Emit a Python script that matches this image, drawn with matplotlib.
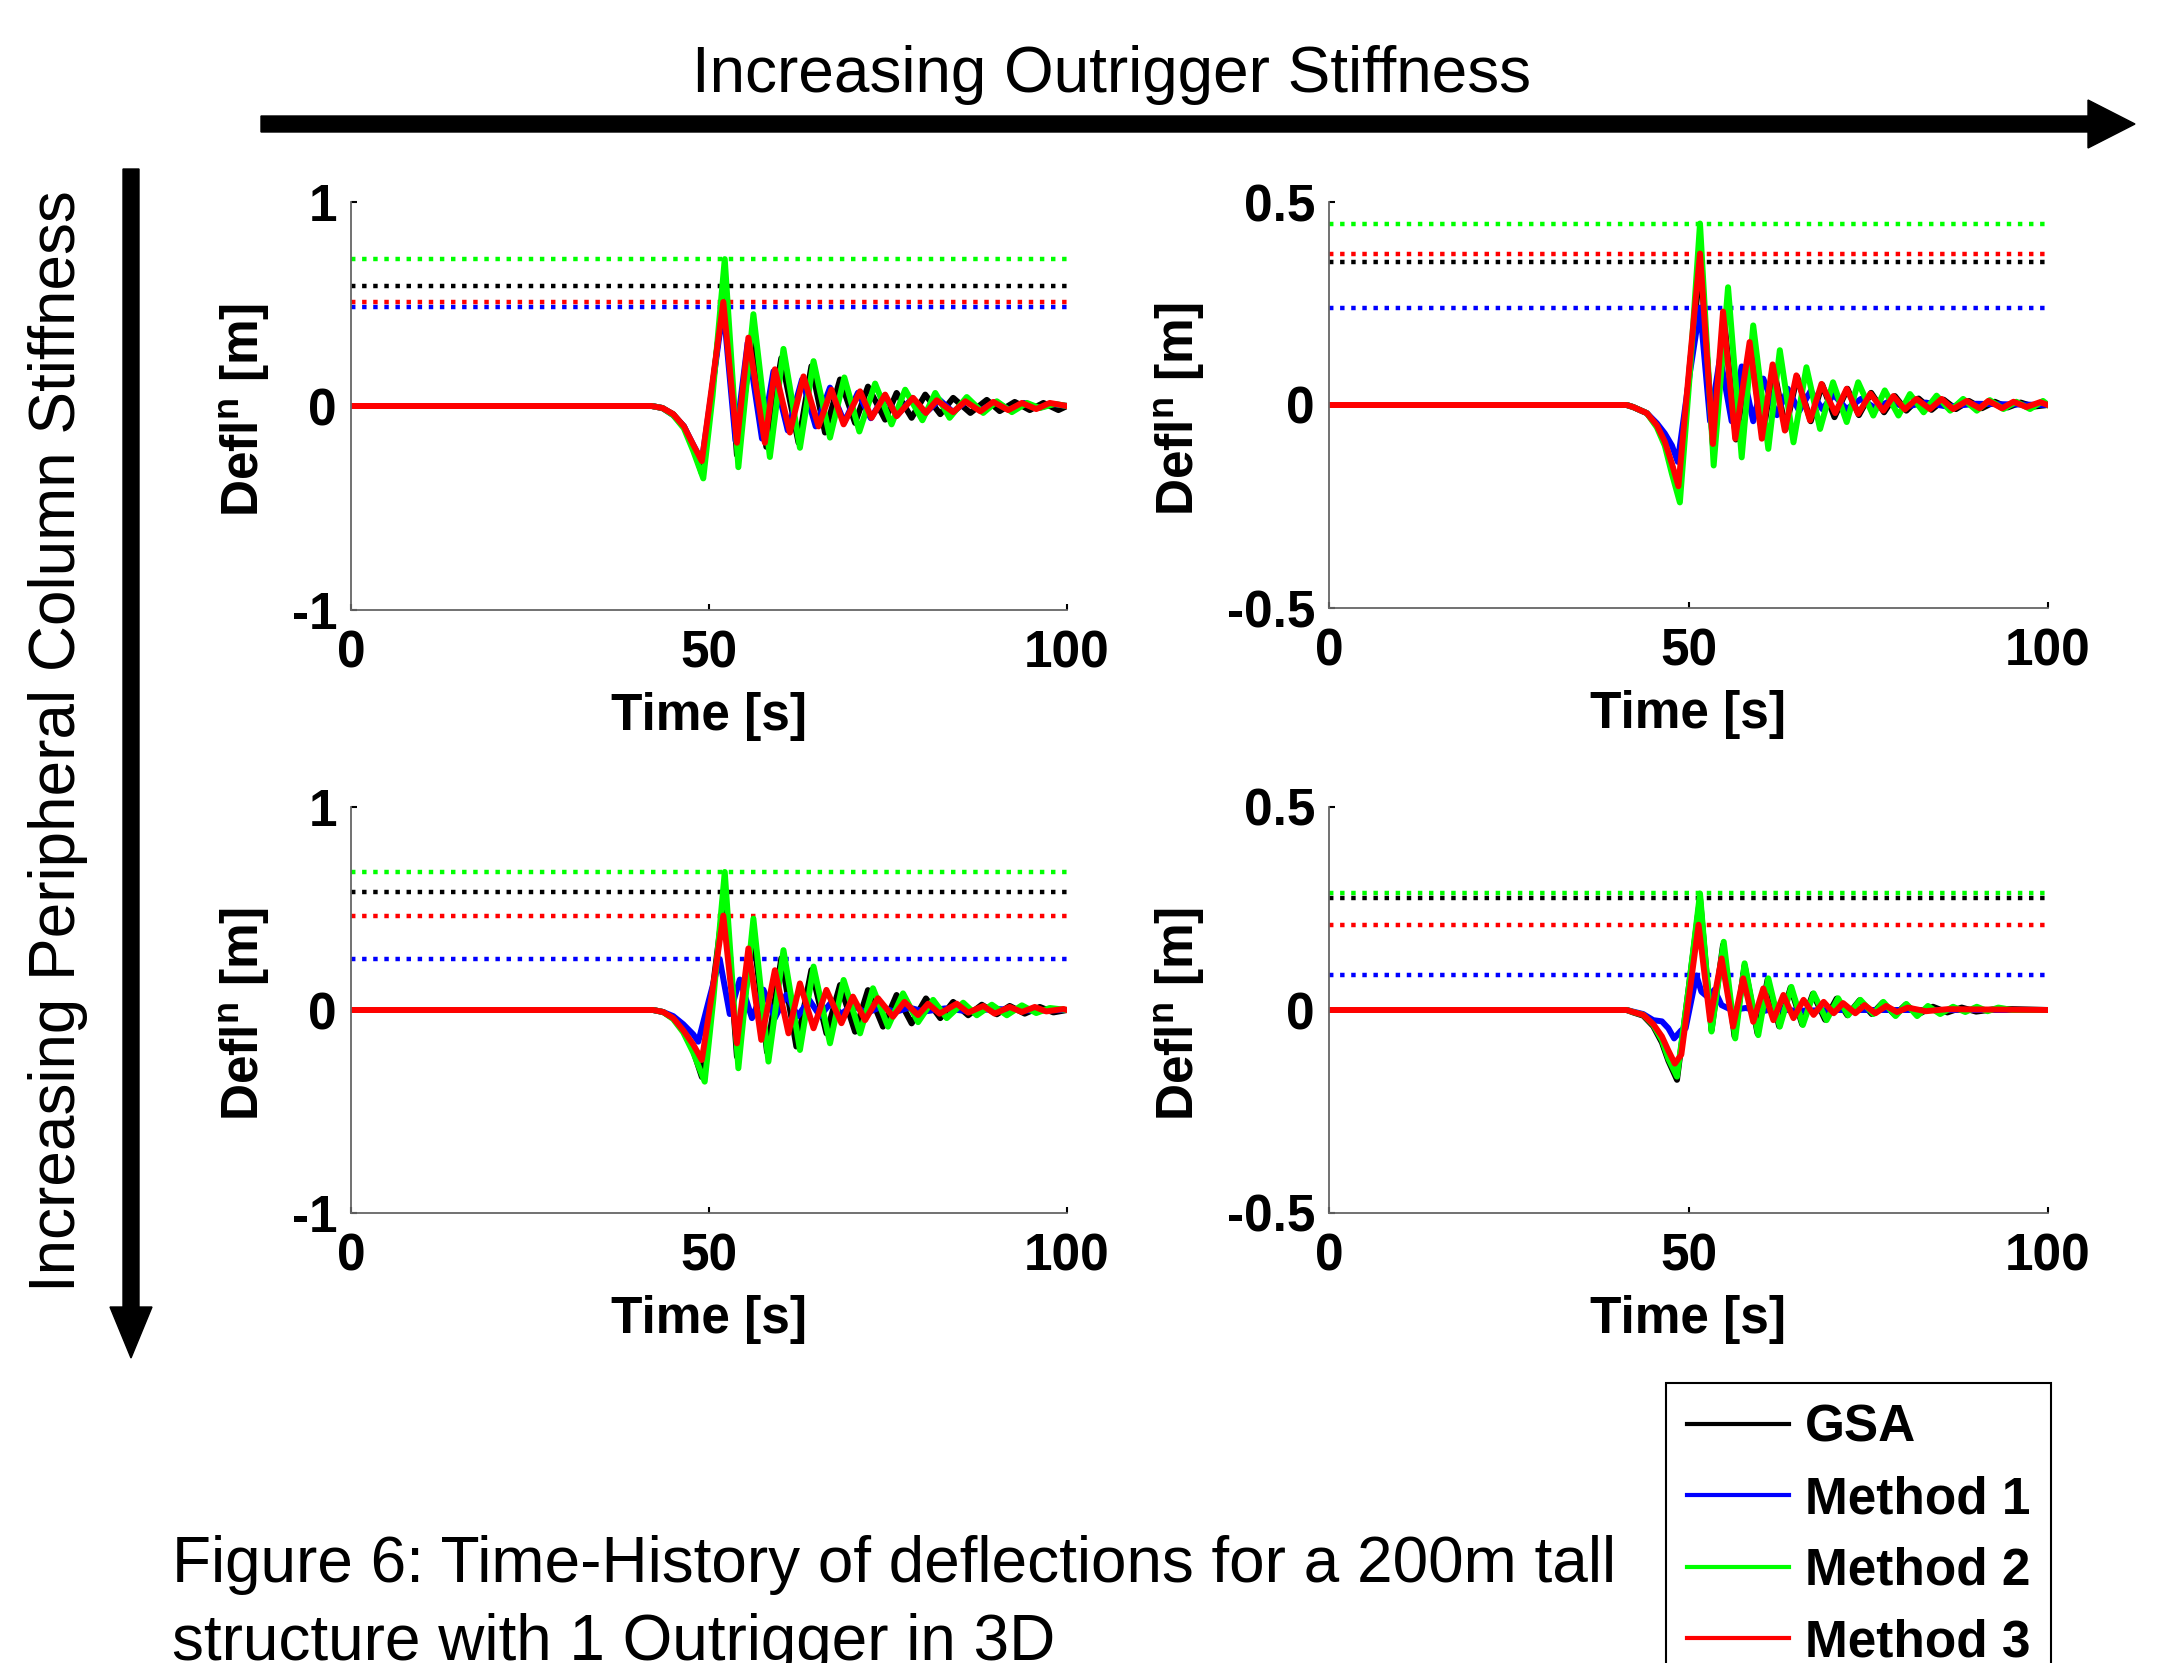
import numpy as np
import matplotlib
matplotlib.use("Agg")
import matplotlib.pyplot as plt
from matplotlib.patches import Polygon

plt.rcParams['font.family'] = ['Liberation Sans', 'DejaVu Sans']
plt.rcParams['mathtext.fontset'] = 'custom'
plt.rcParams['mathtext.rm'] = 'Liberation Sans'
plt.rcParams['mathtext.bf'] = 'Liberation Sans:bold'
plt.rcParams['axes.unicode_minus'] = False

# ---------------- data (time [s], deflection [m]) ----------------
series_names = ['GSA', 'Method 1', 'Method 2', 'Method 3']
series_colors = ['#000000', '#0000ff', '#00ff00', '#ff0000']

# Top-left panel
tl_t_gsa = [0, 42.0, 43.5, 45.0, 46.5, 47.8, 49.0, 50.5, 52.2, 53.9, 56.2, 58.0, 60.1, 62.5, 64.3, 66.2, 68.3, 70.4, 72.2, 74.6, 76.2, 78.3, 80.2, 82.3, 84.1, 86.5, 88.8, 90.6, 92.7, 94.8, 96.7, 98.8, 100]
tl_v_gsa = [0, 0, -0.01, -0.04, -0.10, -0.20, -0.33, 0.10, 0.59, -0.24, 0.38, -0.20, 0.235, -0.18, 0.195, -0.13, 0.13, -0.083, 0.095, -0.067, 0.064, -0.058, 0.056, -0.04, 0.04, -0.034, 0.03, -0.025, 0.02, -0.02, 0.015, -0.02, 0.0]
tl_t_m1 = [0, 42.0, 43.5, 45.0, 46.5, 47.8, 49.0, 50.5, 52.0, 53.7, 55.4, 57.4, 59.0, 61.0, 63.0, 64.9, 66.9, 68.9, 70.8, 72.6, 74.5, 76.3, 78.4, 80.2, 82.2, 84.1, 86.0, 88.0, 90.0, 92.0, 94.0, 96.0, 98.0, 100]
tl_v_m1 = [0, 0, -0.01, -0.045, -0.10, -0.19, -0.27, 0.10, 0.485, -0.17, 0.31, -0.16, 0.17, -0.12, 0.13, -0.10, 0.09, -0.08, 0.065, -0.06, 0.05, -0.045, 0.04, -0.035, 0.03, -0.03, 0.025, -0.02, 0.02, -0.02, 0.015, -0.01, 0.01, 0]
tl_t_m2 = [0, 42.0, 43.5, 45.0, 46.5, 47.8, 49.2, 50.5, 52.2, 54.1, 56.2, 58.5, 60.4, 62.7, 64.6, 66.9, 68.9, 71.0, 73.2, 75.5, 77.4, 79.8, 81.6, 83.6, 86.0, 88.3, 90.2, 92.3, 94.4, 96.2, 98.3, 100]
tl_v_m2 = [0, 0, -0.01, -0.045, -0.11, -0.22, -0.355, 0.05, 0.72, -0.30, 0.45, -0.25, 0.28, -0.205, 0.22, -0.155, 0.14, -0.125, 0.11, -0.09, 0.08, -0.07, 0.064, -0.058, 0.044, -0.034, 0.023, -0.03, 0.015, -0.01, 0.01, 0]
tl_t_m3 = [0, 42.0, 43.5, 45.0, 46.5, 47.8, 49.0, 50.5, 52.0, 53.9, 55.5, 57.8, 59.2, 61.3, 63.2, 65.3, 67.1, 68.8, 71.1, 72.7, 74.6, 76.2, 78.5, 80.3, 81.8, 84.1, 85.8, 87.9, 89.7, 91.8, 93.7, 95.7, 97.6, 100]
tl_v_m3 = [0, 0, -0.01, -0.04, -0.10, -0.19, -0.27, 0.12, 0.51, -0.18, 0.335, -0.18, 0.18, -0.13, 0.145, -0.10, 0.08, -0.09, 0.072, -0.058, 0.056, -0.05, 0.04, -0.034, 0.028, -0.03, 0.023, -0.026, 0.02, -0.02, 0.015, -0.015, 0.015, 0]

# Top-right panel
tr_t_gsa = [0, 41.4, 42.3, 44.2, 45.6, 46.7, 47.7, 48.7, 50.2, 51.7, 53.4, 54.9, 56.6, 58.6, 60.3, 61.8, 63.5, 65.1, 67.0, 68.6, 70.3, 72.1, 73.7, 75.4, 77.2, 78.7, 80.3, 82.0, 83.8, 85.5, 87.2, 89.0, 90.8, 92.6, 94.4, 96.2, 98.0, 100]
tr_v_gsa = [0, 0, -0.005, -0.02, -0.05, -0.095, -0.15, -0.21, 0.10, 0.353, -0.10, 0.22, -0.085, 0.15, -0.08, 0.095, -0.06, 0.07, -0.04, 0.05, -0.03, 0.04, -0.025, 0.03, -0.018, 0.022, -0.014, 0.016, -0.012, 0.013, -0.01, 0.01, -0.008, 0.008, -0.006, 0.006, -0.004, 0]
tr_t_m1 = [0, 41.4, 42.3, 44.2, 45.6, 46.7, 47.7, 48.5, 50.2, 51.6, 53.0, 54.4, 56.0, 57.4, 59.0, 60.4, 62.3, 63.8, 65.4, 67.0, 68.6, 70.2, 72.0, 74.0, 76.0, 78.0, 80.0, 83.0, 86.0, 90.0, 100]
tr_v_m1 = [0, 0, -0.005, -0.02, -0.045, -0.07, -0.10, -0.14, 0.08, 0.24, -0.04, 0.118, -0.04, 0.095, -0.04, 0.065, -0.025, 0.04, -0.015, 0.035, -0.01, 0.025, -0.01, 0.015, -0.008, 0.01, -0.005, 0.006, -0.004, 0.003, 0]
tr_t_m2 = [0, 41.4, 42.3, 44.2, 45.6, 46.7, 47.7, 48.8, 50.2, 51.6, 53.5, 55.5, 57.4, 59.0, 61.1, 62.7, 64.6, 66.4, 68.3, 70.1, 72.0, 73.6, 75.7, 77.3, 79.2, 80.8, 82.7, 84.5, 86.4, 88.2, 90.1, 91.9, 93.8, 95.6, 97.5, 99.3, 100]
tr_v_m2 = [0, 0, -0.005, -0.02, -0.055, -0.10, -0.17, -0.24, 0.08, 0.447, -0.149, 0.29, -0.129, 0.196, -0.108, 0.135, -0.092, 0.093, -0.059, 0.056, -0.042, 0.056, -0.026, 0.036, -0.026, 0.027, -0.018, 0.023, -0.014, 0.015, -0.014, 0.012, -0.01, 0.008, -0.01, 0.01, 0]
tr_t_m3 = [0, 41.4, 42.3, 44.2, 45.6, 46.7, 47.7, 48.6, 50.2, 51.6, 53.4, 54.8, 56.5, 58.5, 60.2, 61.7, 63.4, 65.0, 66.9, 68.5, 70.4, 72.0, 73.6, 75.3, 77.1, 78.5, 80.1, 81.7, 83.6, 85.2, 86.8, 88.7, 90.5, 91.7, 93.6, 95.2, 97.0, 98.9, 100]
tr_v_m3 = [0, 0, -0.005, -0.02, -0.05, -0.09, -0.145, -0.20, 0.11, 0.373, -0.096, 0.23, -0.083, 0.155, -0.083, 0.10, -0.063, 0.073, -0.038, 0.052, -0.02, 0.04, -0.022, 0.028, -0.014, 0.022, -0.011, 0.015, -0.01, 0.015, -0.01, 0.01, -0.008, 0.01, -0.008, 0.008, -0.005, 0.007, 0]

# Bottom-left panel
bl_t_gsa = [0, 42.2, 43.6, 45.0, 46.4, 47.8, 49.0, 50.5, 52.2, 53.9, 56.2, 58.1, 60.1, 62.2, 64.3, 66.4, 68.3, 70.4, 72.2, 74.3, 76.2, 78.3, 80.3, 82.3, 84.1, 86.2, 88.1, 90.2, 92.0, 94.1, 96.2, 98.1, 100]
bl_v_gsa = [0, 0, -0.01, -0.04, -0.10, -0.20, -0.33, 0.10, 0.58, -0.23, 0.377, -0.207, 0.255, -0.18, 0.197, -0.115, 0.123, -0.107, 0.098, -0.082, 0.074, -0.066, 0.057, -0.04, 0.04, -0.026, 0.026, -0.021, 0.02, -0.018, 0.015, -0.012, 0]
bl_t_m1 = [0, 42.2, 43.6, 45.0, 46.4, 47.8, 48.5, 50.0, 51.5, 52.9, 54.3, 56.0, 57.6, 59.2, 60.8, 62.4, 64.0, 65.5, 67.0, 68.5, 70.0, 72.0, 74.0, 76.0, 78.0, 80.0, 83.0, 86.0, 90.0, 95.0, 100]
bl_v_m1 = [0, 0, -0.01, -0.03, -0.07, -0.12, -0.156, 0.05, 0.25, -0.02, 0.15, -0.04, 0.10, -0.04, 0.075, -0.03, 0.05, -0.03, 0.035, -0.02, 0.025, -0.015, 0.015, -0.01, 0.012, -0.008, 0.008, -0.006, 0.005, -0.003, 0]
bl_t_m2 = [0, 42.2, 43.6, 45.0, 46.4, 47.8, 49.4, 50.6, 52.2, 54.1, 56.2, 58.3, 60.4, 62.7, 64.6, 66.9, 68.8, 71.1, 72.9, 75.0, 77.1, 79.2, 81.3, 83.2, 85.5, 87.4, 89.5, 91.6, 93.7, 95.7, 97.6, 100]
bl_v_m2 = [0, 0, -0.01, -0.045, -0.11, -0.21, -0.353, 0.05, 0.68, -0.287, 0.45, -0.254, 0.295, -0.197, 0.214, -0.164, 0.148, -0.115, 0.107, -0.082, 0.082, -0.06, 0.05, -0.04, 0.036, -0.026, 0.026, -0.026, 0.023, -0.015, 0.01, 0]
bl_t_m3 = [0, 42.2, 43.6, 45.0, 46.4, 47.8, 49.0, 50.5, 52.0, 53.9, 55.5, 57.3, 59.2, 61.1, 62.7, 64.6, 66.4, 68.5, 70.1, 71.8, 73.6, 75.7, 77.3, 79.2, 80.6, 82.2, 84.6, 86.2, 88.3, 89.9, 92.0, 93.7, 95.5, 97.1, 99.5, 100]
bl_v_m3 = [0, 0, -0.01, -0.04, -0.10, -0.17, -0.246, 0.10, 0.465, -0.164, 0.303, -0.147, 0.196, -0.115, 0.131, -0.09, 0.099, -0.065, 0.066, -0.05, 0.058, -0.033, 0.04, -0.025, 0.031, -0.018, 0.031, -0.013, 0.02, -0.018, 0.015, -0.01, 0.015, -0.007, 0.005, 0]

# Bottom-right panel
br_t_gsa = [0, 41.4, 42.3, 43.7, 45.1, 46.3, 47.2, 48.4, 50.0, 51.6, 53.2, 54.8, 56.4, 57.8, 59.6, 61.0, 62.6, 64.2, 65.8, 67.3, 69.0, 70.6, 72.1, 73.8, 75.5, 77.0, 78.7, 80.2, 82.0, 84.0, 86.0, 88.0, 90.0, 93.0, 100]
br_v_gsa = [0, 0, -0.006, -0.014, -0.04, -0.08, -0.125, -0.172, 0.05, 0.275, -0.05, 0.16, -0.065, 0.11, -0.058, 0.075, -0.04, 0.055, -0.035, 0.04, -0.024, 0.028, -0.013, 0.024, -0.01, 0.018, -0.012, 0.013, -0.01, 0.008, -0.006, 0.006, -0.004, 0.003, 0]
br_t_m1 = [0, 41.4, 42.3, 43.7, 45.1, 46.3, 47.2, 48.0, 49.0, 49.6, 51.1, 51.8, 52.8, 53.6, 54.6, 56.0, 58.0, 60.0, 62.0, 65.0, 70.0, 100]
br_v_m1 = [0, 0, -0.004, -0.01, -0.025, -0.028, -0.045, -0.07, -0.05, -0.045, 0.085, 0.045, 0.03, 0.05, 0.012, 0.0, 0.005, -0.004, 0.003, -0.002, 0.0, 0]
br_t_m2 = [0, 41.4, 42.3, 43.7, 45.1, 46.3, 47.2, 48.4, 50.0, 51.6, 53.2, 54.9, 56.5, 57.8, 59.7, 61.1, 62.7, 64.3, 65.9, 67.4, 69.2, 70.8, 72.2, 73.9, 75.7, 77.1, 78.8, 80.3, 81.8, 83.3, 85.0, 86.8, 88.5, 90.1, 91.6, 93.1, 95.0, 100]
br_v_m2 = [0, 0, -0.005, -0.012, -0.037, -0.074, -0.12, -0.164, 0.05, 0.287, -0.053, 0.168, -0.07, 0.115, -0.062, 0.078, -0.041, 0.057, -0.037, 0.041, -0.025, 0.029, -0.013, 0.025, -0.01, 0.02, -0.015, 0.015, -0.015, 0.01, -0.01, 0.008, -0.005, 0.008, -0.003, 0.006, 0, 0]
br_t_m3 = [0, 41.4, 42.3, 43.7, 45.1, 46.3, 47.2, 48.1, 49.0, 51.4, 53.0, 54.6, 56.2, 57.6, 59.0, 60.4, 61.8, 63.2, 64.6, 66.0, 67.4, 68.8, 70.2, 71.5, 73.2, 74.5, 76.0, 77.5, 79.0, 80.5, 83.0, 86.0, 100]
br_v_m3 = [0, 0, -0.005, -0.012, -0.035, -0.065, -0.10, -0.132, -0.11, 0.21, -0.025, 0.127, -0.041, 0.078, -0.029, 0.053, -0.025, 0.037, -0.02, 0.025, -0.012, 0.02, -0.008, 0.017, -0.008, 0.012, -0.008, 0.01, -0.005, 0.006, -0.003, 0.002, 0]

x_ticks = [0, 50, 100]
x_ticklabels = ['0', '50', '100']
yticks_big = [-1, 0, 1]
yticklabels_big = ['-1', '0', '1']
yticks_small = [-0.5, 0, 0.5]
yticklabels_small = ['-0.5', '0', '0.5']

# ---------------- figure ----------------
W, H = 2157, 1663
fig = plt.figure(figsize=(W / 100, H / 100), dpi=100)
FS = 37


def px_axes(x0, x1, ytop, ybot):
    return fig.add_axes([x0 / W, 1 - ybot / H, (x1 - x0) / W, (ybot - ytop) / H])


def draw_panel(ax, data, ylim, yticks, yticklabels, ylabel_x):
    for (t, v), c in zip(data, series_colors):
        ax.axhline(np.max(v), color=c, lw=3.2, ls=(0, (1, 1.5)),
                   dash_capstyle='butt', zorder=1)
    handles = []
    for (t, v), c, n in zip(data, series_colors, series_names):
        ln, = ax.plot(t, v, color=c, lw=4.3, zorder=2, label=n)
        handles.append(ln)
    ax.set_xlim(0, 100)
    ax.set_ylim(*ylim)
    ax.set_xticks(x_ticks)
    ax.set_xticklabels(x_ticklabels)
    ax.set_yticks(yticks)
    ax.set_yticklabels(yticklabels)
    for s in ['top', 'right']:
        ax.spines[s].set_visible(False)
    for s in ['left', 'bottom']:
        ax.spines[s].set_color('#666666')
        ax.spines[s].set_linewidth(1.3)
    ax.tick_params(direction='in', length=4, width=1.5, color='black',
                   labelsize=FS)
    ax.tick_params(axis='x', pad=14)
    ax.tick_params(axis='y', pad=10)
    for lab in ax.get_xticklabels() + ax.get_yticklabels():
        lab.set_fontweight('bold')
    ax.set_xlabel('Time [s]', fontsize=FS, fontweight='bold')
    ax.xaxis.label.set_verticalalignment('center')
    ax.xaxis.set_label_coords(0.5, -0.262)
    ax.set_ylabel(r'Defl$^{\mathbf{n}}$ [m]', fontsize=FS, fontweight='bold')
    ax.yaxis.label.set_verticalalignment('baseline')
    ax.yaxis.set_label_coords(ylabel_x, 0.49)
    return handles


ax_tl = px_axes(351, 1067, 202, 610)
ax_tr = px_axes(1329, 2048, 202, 608)
ax_bl = px_axes(351, 1067, 807, 1213)
ax_br = px_axes(1329, 2048, 807, 1213)

handles = draw_panel(ax_tl, [(tl_t_gsa, tl_v_gsa), (tl_t_m1, tl_v_m1), (tl_t_m2, tl_v_m2), (tl_t_m3, tl_v_m3)],
                     (-1, 1), yticks_big, yticklabels_big, -0.128)
draw_panel(ax_tr, [(tr_t_gsa, tr_v_gsa), (tr_t_m1, tr_v_m1), (tr_t_m2, tr_v_m2), (tr_t_m3, tr_v_m3)],
           (-0.5, 0.5), yticks_small, yticklabels_small, -0.188)
draw_panel(ax_bl, [(bl_t_gsa, bl_v_gsa), (bl_t_m1, bl_v_m1), (bl_t_m2, bl_v_m2), (bl_t_m3, bl_v_m3)],
           (-1, 1), yticks_big, yticklabels_big, -0.128)
draw_panel(ax_br, [(br_t_gsa, br_v_gsa), (br_t_m1, br_v_m1), (br_t_m2, br_v_m2), (br_t_m3, br_v_m3)],
           (-0.5, 0.5), yticks_small, yticklabels_small, -0.188)

# legend (partly cut by the bottom edge, as in the original)
leg = fig.legend(handles=handles, labels=series_names, loc='upper left',
                 bbox_to_anchor=(1666 / W, 1 - 1383 / H), bbox_transform=fig.transFigure,
                 prop=dict(weight='bold', size=FS), frameon=True, fancybox=False,
                 edgecolor='black', framealpha=1, handlelength=2.0,
                 handletextpad=0.3, labelspacing=0.44, borderpad=0.4,
                 borderaxespad=0)
leg.get_frame().set_linewidth(1.5)
for ln in leg.get_lines():
    ln.set_linewidth(3.0)

# overlay for arrows (pixel coordinates)
ov = fig.add_axes([0, 0, 1, 1], zorder=-1)
ov.set_xlim(0, W)
ov.set_ylim(H, 0)
ov.axis('off')
ov.add_patch(Polygon([(261, 116), (2088, 116), (2088, 100), (2135, 124), (2088, 148),
                      (2088, 132), (261, 132)], closed=True, color='black'))
ov.add_patch(Polygon([(123, 169), (139, 169), (139, 1307), (152, 1307), (131, 1358),
                      (110, 1307), (123, 1307)], closed=True, color='black'))

fig.text(1112 / W, 1 - 92 / H, 'Increasing Outrigger Stiffness', ha='center',
         va='baseline', fontsize=46)
fig.text(58 / W, 1 - 741 / H, 'Increasing Peripheral Column Stiffness', rotation=90,
         ha='center', va='center', fontsize=46)
fig.text(172 / W, 1 - 1582 / H, 'Figure 6: Time-History of deflections for a 200m tall',
         ha='left', va='baseline', fontsize=46)
fig.text(172 / W, 1 - 1660 / H, 'structure with 1 Outrigger in 3D',
         ha='left', va='baseline', fontsize=46)

fig.savefig('out.png', dpi=100)
